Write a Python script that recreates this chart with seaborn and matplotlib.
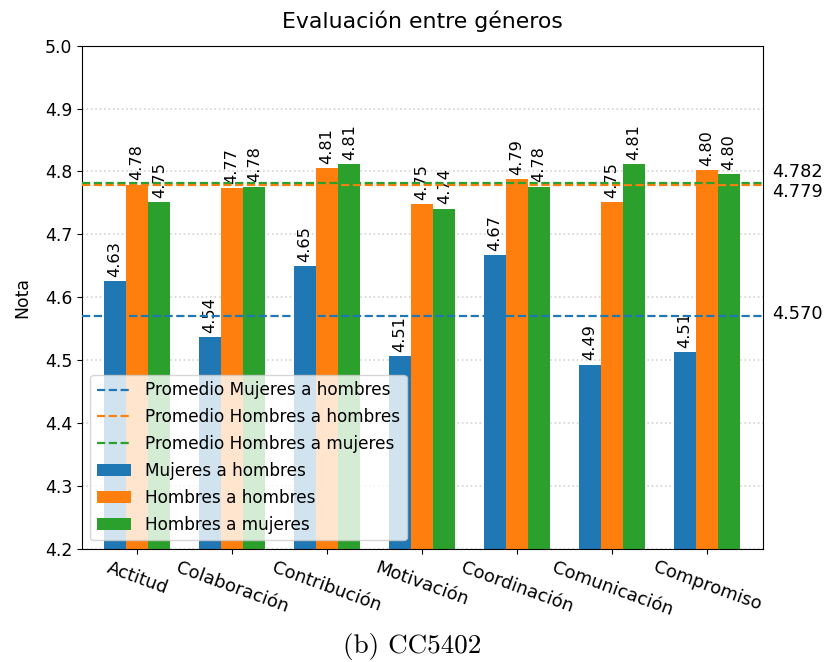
import matplotlib
matplotlib.use("Agg")
import matplotlib.pyplot as plt
from matplotlib.lines import Line2D
from matplotlib.patches import Patch
import seaborn as sns
import pandas as pd

# Criterios evaluados
criterios = ["Actitud", "Colaboración", "Contribución", "Motivación",
             "Coordinación", "Comunicación", "Compromiso"]

# Nota promedio por criterio para cada tipo de evaluación
mujeres_a_hombres = [4.626, 4.536, 4.649, 4.506, 4.667, 4.493, 4.513]
hombres_a_hombres = [4.779, 4.773, 4.806, 4.748, 4.788, 4.751, 4.802]
hombres_a_mujeres = [4.751, 4.776, 4.812, 4.741, 4.776, 4.812, 4.796]

series = ["Mujeres a hombres", "Hombres a hombres", "Hombres a mujeres"]
promedios = [4.570, 4.779, 4.782]
colores = ["#1f77b4", "#ff7f0e", "#2ca02c"]

df = pd.DataFrame({
    "criterio": criterios * 3,
    "nota": mujeres_a_hombres + hombres_a_hombres + hombres_a_mujeres,
    "serie": [s for s in series for _ in criterios],
})

plt.rcParams["font.family"] = ["DejaVu Sans"]
plt.rcParams["font.size"] = 12.4

fig = plt.figure(figsize=(8.24, 6.62), dpi=100)
ax = fig.add_axes([0.0995, 0.171, 0.8265, 0.760])

ax.set_axisbelow(True)
ax.grid(axis="y", linestyle=":", color="#d4d4d4", linewidth=1.2)

sns.barplot(data=df, x="criterio", y="nota", hue="serie", order=criterios,
            hue_order=series, palette=colores, saturation=1, width=0.7,
            legend=False, ax=ax, zorder=2)

for cont in ax.containers:
    ax.bar_label(cont, fmt="%.2f", rotation=90, padding=3, fontsize=11.6)

# Líneas de promedio
for prom, col in zip(promedios, colores):
    ax.axhline(prom, color=col, linestyle="--", linewidth=1.6, zorder=3)

# Valores de los promedios a la derecha del eje
offsets = [2, -7, 11]
for prom, off in zip(promedios, offsets):
    ax.annotate(f"{prom:.3f}", xy=(1.0, prom),
                xycoords=("axes fraction", "data"),
                xytext=(9, off), textcoords="offset pixels",
                ha="left", va="center", fontsize=12.8)

ax.set_ylim(4.2, 5.0)
ax.set_xlim(-0.58, 6.59)
ax.set_xlabel("")
ax.set_ylabel("Nota", labelpad=10)
ax.set_title("Evaluación entre géneros", fontsize=15.8, pad=13)
plt.setp(ax.get_xticklabels(), rotation=-20, ha="center", fontsize=13)

handles = [Line2D([0], [0], color=c, linestyle="--", linewidth=1.6)
           for c in colores]
handles += [Patch(facecolor=c) for c in colores]
labels = ["Promedio " + s for s in series] + series
ax.legend(handles, labels, loc="lower left", fontsize=12.2, framealpha=0.8,
          labelspacing=0.52)

fig.text(0.5, 0.024, "(b) CC5402", ha="center", va="center",
         fontsize=19.5, family="cmr10")

fig.savefig("out.png", dpi=100)
